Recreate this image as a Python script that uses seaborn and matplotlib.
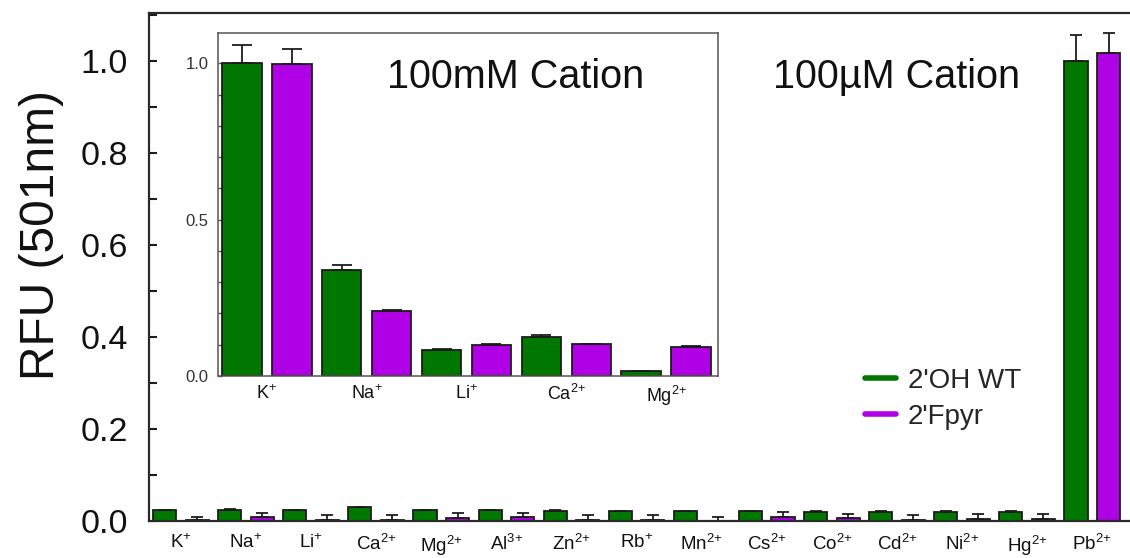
import matplotlib
matplotlib.use("Agg")
import matplotlib.pyplot as plt
from matplotlib.lines import Line2D
from matplotlib.ticker import MultipleLocator, FormatStrFormatter
import numpy as np
import pandas as pd
import seaborn as sns

# ---- data -------------------------------------------------------------
series_names = ["2'OH WT", "2'Fpyr"]
series_colors = ["#007800", "#B000E6"]

# 100 uM cation screen
cations_uM = [r"$\mathregular{K^{{+}}}$", r"$\mathregular{Na^{{+}}}$", r"$\mathregular{Li^{{+}}}$",
              r"$\mathregular{Ca^{2{+}}}$", r"$\mathregular{Mg^{2{+}}}$", r"$\mathregular{Al^{3{+}}}$",
              r"$\mathregular{Zn^{2{+}}}$", r"$\mathregular{Rb^{{+}}}$", r"$\mathregular{Mn^{2{+}}}$",
              r"$\mathregular{Cs^{2{+}}}$", r"$\mathregular{Co^{2{+}}}$", r"$\mathregular{Cd^{2{+}}}$",
              r"$\mathregular{Ni^{2{+}}}$", r"$\mathregular{Hg^{2{+}}}$", r"$\mathregular{Pb^{2{+}}}$"]
wt_uM = [0.024, 0.023, 0.023, 0.031, 0.023, 0.023, 0.021, 0.022, 0.022, 0.022,
         0.020, 0.020, 0.020, 0.020, 1.000]
wt_uM_err = [0.000, 0.003, 0.000, 0.000, 0.000, 0.000, 0.002, 0.000, 0.000, 0.000,
             0.002, 0.002, 0.002, 0.002, 0.056]
fp_uM = [0.002, 0.008, 0.002, 0.003, 0.006, 0.008, 0.002, 0.002, 0.001, 0.009,
         0.007, 0.002, 0.004, 0.005, 1.016]
fp_uM_err = [0.006, 0.010, 0.012, 0.011, 0.011, 0.010, 0.012, 0.012, 0.008, 0.011,
             0.008, 0.010, 0.011, 0.010, 0.044]

# 100 mM cation screen (inset)
cations_mM = [r"$\mathregular{K^{{+}}}$", r"$\mathregular{Na^{{+}}}$", r"$\mathregular{Li^{{+}}}$",
              r"$\mathregular{Ca^{2{+}}}$", r"$\mathregular{Mg^{2{+}}}$"]
wt_mM = [1.000, 0.339, 0.083, 0.126, 0.015]
wt_mM_err = [0.058, 0.016, 0.003, 0.004, 0.000]
fp_mM = [0.997, 0.209, 0.099, 0.101, 0.094]
fp_mM_err = [0.050, 0.002, 0.002, 0.002, 0.003]


def long_table(cats, wt, wt_err, fp, fp_err):
    return pd.DataFrame({
        "cation": list(cats) * 2,
        "series": [series_names[0]] * len(cats) + [series_names[1]] * len(cats),
        "rfu": list(wt) + list(fp),
        "err": list(wt_err) + list(fp_err),
    })


df_uM = long_table(cations_uM, wt_uM, wt_uM_err, fp_uM, fp_uM_err)
df_mM = long_table(cations_mM, wt_mM, wt_mM_err, fp_mM, fp_mM_err)

# ---- style ------------------------------------------------------------
sns.set_style("white")
plt.rcParams["font.family"] = ["Liberation Sans", "DejaVu Sans"]
ink = "#1c1c1c"


def draw_bars(ax, df, gap, capsize):
    sns.barplot(data=df, x="cation", y="rfu", hue="series", hue_order=series_names,
                palette=series_colors, width=1.0, gap=gap, errorbar=None,
                edgecolor=ink, linewidth=1.3, saturation=1, legend=False, ax=ax)
    # upward-only error bars placed on the bars seaborn drew
    for cont, name in zip(ax.containers, series_names):
        sub = df[df["series"] == name]
        xs = [p.get_x() + p.get_width() / 2 for p in cont]
        ys = [p.get_height() for p in cont]
        errs = sub["err"].to_numpy()
        ax.errorbar(xs, ys, yerr=[np.zeros_like(errs), errs], fmt="none",
                    ecolor=ink, elinewidth=1.3, capsize=capsize, capthick=1.3, zorder=1)


fig = plt.figure(figsize=(11.30, 5.58), dpi=100)

# ---- main axes --------------------------------------------------------
ax = fig.add_axes([149 / 1130, 1 - 521 / 558, 1 - 149 / 1130, (521 - 13) / 558])
draw_bars(ax, df_uM, gap=0.29, capsize=4)
ax.set_xlim(-0.49, 14.58)
ax.set_ylim(0, 1.104)
ax.yaxis.set_major_locator(MultipleLocator(0.2))
ax.yaxis.set_minor_locator(MultipleLocator(0.1))
ax.yaxis.set_major_formatter(FormatStrFormatter("%.1f"))
ax.tick_params(axis="y", which="both", direction="in", length=6, width=1.5,
               color=ink, left=True, labelsize=24.5, pad=15, labelcolor="#111111")
ax.tick_params(axis="x", length=0, labelsize=13.5, pad=9, labelcolor="#111111")
for side in ("left", "bottom", "top"):
    ax.spines[side].set_linewidth(1.6)
    ax.spines[side].set_color("#2a2a2a")
ax.spines["right"].set_visible(False)
ax.set_xlabel("")
ax.set_ylabel("RFU (501nm)", fontsize=34.5, color="#111111")
ax.yaxis.set_label_coords(-0.087, 0.563)

ax.text(0.636, 0.852, "100\u00b5M Cation", transform=ax.transAxes,
        fontsize=28.5, ha="left", va="baseline", color="#111111")

handles = [Line2D([], [], color=c, lw=4) for c in series_colors]
ax.legend(handles, series_names, loc="upper left",
          bbox_to_anchor=(865 / 1130, 1 - 368 / 558), bbox_transform=fig.transFigure,
          frameon=False, fontsize=20, handlelength=1.1, handletextpad=0.45,
          labelspacing=0.35, borderpad=0, borderaxespad=0)

# ---- inset axes -------------------------------------------------------
ins = fig.add_axes([218 / 1130, 1 - 376 / 558, (718 - 218) / 1130, (376 - 33) / 558])
ins.set_facecolor("white")
draw_bars(ins, df_mM, gap=0.21, capsize=7)
ins.set_xlim(-0.49, 4.52)
ins.set_ylim(0, 1.097)
ins.yaxis.set_major_locator(MultipleLocator(0.5))
ins.yaxis.set_minor_locator(MultipleLocator(0.1))
ins.yaxis.set_major_formatter(FormatStrFormatter("%.1f"))
ins.tick_params(axis="y", which="both", direction="in", length=3, width=1.0,
                color="#555555", left=True, labelsize=12, pad=7, labelcolor="#333333")
ins.tick_params(axis="x", length=0, labelsize=13, pad=6, labelcolor="#111111")
for side in ins.spines.values():
    side.set_visible(True)
    side.set_linewidth(1.1)
    side.set_color("#555555")
ins.set_xlabel("")
ins.set_ylabel("")
ins.text(0.338, 0.840, "100mM Cation", transform=ins.transAxes,
         fontsize=28.5, ha="left", va="baseline", color="#111111")

fig.savefig("out.png", dpi=100)
